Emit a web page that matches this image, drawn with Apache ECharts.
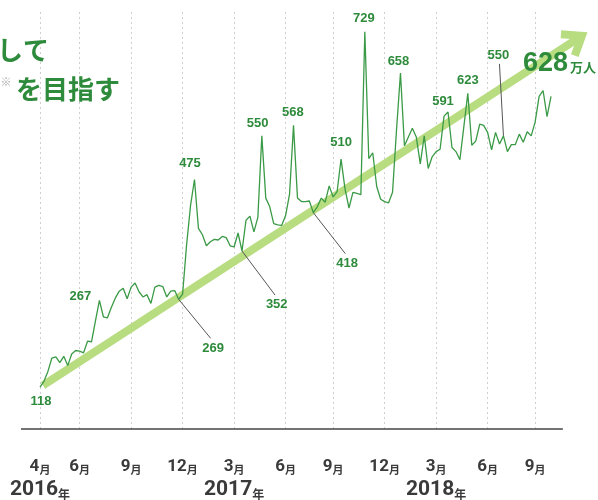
<!DOCTYPE html>
<html>
<head>
<meta charset="utf-8">
<script src="https://cdn.jsdelivr.net/npm/echarts@6/dist/echarts.min.js"></script>
<style>
  html, body { margin: 0; padding: 0; background: #fff; }
  #chart { width: 598px; height: 500px; }
</style>
</head>
<body>
<div id="chart"></div>
<script>
    // 週ごとの値（万人）
    var visitors = [
        118, 128, 145, 168, 170, 160, 171, 155, 175, 181, 180, 177, 197, 196, 232, 267,
        239, 237, 255, 271, 283, 288, 270, 290, 297, 282, 273, 277, 262, 290, 293, 291,
        273, 283, 284, 269, 278, 362, 430, 475, 391, 380, 361, 368, 372, 371, 377, 375,
        361, 359, 383, 352, 405, 412, 385, 410, 550, 443, 428, 399, 397, 396, 413, 450,
        568, 443, 437, 437, 438, 418, 428, 443, 436, 464, 445, 454, 510, 459, 426, 453,
        451, 449, 729, 511, 521, 463, 441, 437, 435, 453, 560, 658, 533, 548, 563, 548,
        502, 550, 494, 514, 523, 527, 584, 591, 530, 523, 509, 566, 623, 534, 541, 570,
        568, 556, 526, 556, 536, 550, 523, 535, 535, 553, 539, 557, 550, 574, 618, 628,
        583, 618
    ];

    var tickIdx = [0, 10, 23, 36, 49, 62, 74, 87, 100, 113, 125];
    var tickMonths = ['4', '6', '9', '12', '3', '6', '9', '12', '3', '6', '9'];
    var yearIdx = [0, 49, 100];
    var yearLabels = ['2016', '2017', '2018'];

    // 数値ラベルを付ける週
    var calloutIdx = [0, 15, 35, 39, 51, 56, 64, 69, 76, 82, 91, 103, 108, 117];

    // 目標の矢印（始点・終点）
    var trendStart = [0.76, 121];
    var trendEnd = [136.8, 722];
    var goalValue = 628;

    var green = '#2e8b3c';
    var lineGreen = '#3a9a46';
    var arrowGreen = '#b8dc80';
    var digitFont = 'Roboto, "Liberation Sans", sans-serif';
    var cjkFont = '"Noto Sans CJK JP", sans-serif';

    // ラベルの位置（点からのずれ）と引き出し線
    var calloutStyle = [
        { dx: 1, dy: 14 },
        { dx: -19, dy: -4.5 },
        { dx: 34.4, dy: 49.6, lead: [32, 39] },
        { dx: -4.5, dy: -16 },
        { dx: 34.7, dy: 53.3, lead: [33, 44] },
        { dx: -4.3, dy: -12.4 },
        { dx: -0.7, dy: -13 },
        { dx: 33.7, dy: 51, lead: [32, 41] },
        { dx: 0, dy: -16.8 },
        { dx: -1, dy: -13.5 },
        { dx: -2, dy: -12 },
        { dx: -5, dy: -10.4 },
        { dx: 0, dy: -13 },
        { dx: -5, dy: -80, lead: [-4, -72] }
    ];

    var weeks = visitors.map(function (v, i) { return String(i); });

    var chart = echarts.init(document.getElementById('chart'));

    var option = {
        animation: false,
        grid: { left: 40, right: 47, top: 12, bottom: 68 },
        xAxis: [{
            // 月
            type: 'category',
            data: weeks,
            boundaryGap: false,
            axisLine: { show: false },
            axisTick: { show: false },
            axisLabel: {
                interval: function (i) { return tickIdx.indexOf(i) >= 0; },
                showMinLabel: true,
                margin: 21,
                formatter: function (val, i) {
                    var k = tickIdx.indexOf(i);
                    return k < 0 ? '' : '{d|' + tickMonths[k] + '}{m|月}';
                },
                rich: {
                    d: { fontSize: 17, fontWeight: 'bold', fontFamily: digitFont, color: '#3a3a3a', lineHeight: 25, verticalAlign: 'bottom' },
                    m: { fontSize: 11, fontWeight: 'bold', fontFamily: cjkFont, color: '#3a3a3a', lineHeight: 20, verticalAlign: 'bottom' }
                }
            },
            splitLine: {
                show: true,
                interval: function (i) { return tickIdx.indexOf(i) >= 0; },
                lineStyle: { color: '#cfcfcf', type: [2, 3], width: 1 }
            }
        }, {
            type: 'value',
            min: 0,
            max: visitors.length - 1,
            show: false
        }, {
            // 年
            type: 'category',
            data: weeks,
            position: 'bottom',
            boundaryGap: false,
            axisLine: { show: false },
            axisTick: { show: false },
            splitLine: { show: false },
            axisLabel: {
                interval: function (i) { return yearIdx.indexOf(i) >= 0; },
                showMinLabel: true,
                margin: 46,
                formatter: function (val, i) {
                    var k = yearIdx.indexOf(i);
                    return k < 0 ? '' : '{y|' + yearLabels[k] + '}{n|年}';
                },
                rich: {
                    y: { fontSize: 21, fontWeight: 'bold', fontFamily: digitFont, color: '#3a3a3a', lineHeight: 25, verticalAlign: 'bottom' },
                    n: { fontSize: 12, fontWeight: 'bold', fontFamily: cjkFont, color: '#3a3a3a', lineHeight: 20, verticalAlign: 'bottom' }
                }
            }
        }],
        yAxis: { type: 'value', min: 46, max: 763, show: false },
        series: [{
            type: 'line',
            data: visitors,
            symbol: 'none',
            silent: true,
            z: 3,
            lineStyle: { color: lineGreen, width: 1.3 }
        }, {
            type: 'custom',
            xAxisIndex: 1,
            silent: true,
            clip: false,
            z: 4,
            data: calloutIdx.map(function (i) { return [i, visitors[i]]; }),
            renderItem: function (params, api) {
                var p = api.coord([api.value(0), api.value(1)]);
                var c = calloutStyle[params.dataIndex];
                var kids = [];
                if (c.lead) {
                    kids.push({
                        type: 'line',
                        shape: { x1: p[0], y1: p[1], x2: p[0] + c.lead[0], y2: p[1] + c.lead[1] },
                        style: { stroke: '#555', lineWidth: 1 }
                    });
                }
                kids.push({
                    type: 'text',
                    style: {
                        text: String(api.value(1)),
                        x: p[0] + c.dx,
                        y: p[1] + c.dy,
                        align: 'center',
                        verticalAlign: 'middle',
                        font: 'bold 13px "Liberation Sans", Arial, sans-serif',
                        fill: green
                    }
                });
                return { type: 'group', children: kids };
            }
        }]
    };

    chart.setOption(option);

    // 目標の矢印（軸の座標から位置を出す）
    var finder = { xAxisIndex: 1, yAxisIndex: 0 };
    var tip = chart.convertToPixel(finder, trendEnd);
    var tail = chart.convertToPixel(finder, trendStart);
    var ang = Math.atan2(tip[1] - tail[1], tip[0] - tail[0]);
    function arm(a) {
        return [tip[0] + 21 * Math.cos(ang + Math.PI + a), tip[1] + 21 * Math.sin(ang + Math.PI + a)];
    }
    var axL = chart.convertToPixel(finder, [-4.8, 46]);
    var axR = chart.convertToPixel(finder, [132, 46]);

    chart.setOption({
        graphic: [{
            type: 'line',
            z: 1,
            shape: { x1: tail[0], y1: tail[1], x2: tip[0], y2: tip[1] },
            style: { stroke: arrowGreen, lineWidth: 8 }
        }, {
            type: 'polyline',
            z: 1,
            shape: { points: [arm(0.65), tip, arm(-0.65)] },
            style: { stroke: arrowGreen, lineWidth: 8, fill: null, lineJoin: 'miter' }
        }, {
            type: 'line',
            z: 1,
            shape: { x1: axL[0], y1: axL[1], x2: axR[0], y2: axR[1] },
            style: { stroke: '#444', lineWidth: 1.5 }
        }, {
            type: 'text',
            z: 5,
            x: 568, y: 64,
            style: { text: String(goalValue), align: 'right', verticalAlign: 'middle', font: 'bold 27px "Liberation Sans", Arial, sans-serif', fill: green }
        }, {
            type: 'text',
            z: 5,
            x: 570, y: 67.5,
            style: { text: '万人', align: 'left', verticalAlign: 'middle', font: 'bold 13px ' + cjkFont, fill: green }
        }, {
            type: 'text',
            x: 49, y: 50,
            style: { text: 'して', align: 'right', verticalAlign: 'middle', font: 'bold 26px ' + cjkFont, fill: green }
        }, {
            type: 'text',
            x: 120, y: 89,
            style: { text: 'を目指す', align: 'right', verticalAlign: 'middle', font: 'bold 26px ' + cjkFont, fill: green }
        }, {
            type: 'text',
            x: 6, y: 82,
            style: { text: '※', align: 'center', verticalAlign: 'middle', font: '11px ' + cjkFont, fill: '#aaa' }
        }]
    });
</script>
</body>
</html>
